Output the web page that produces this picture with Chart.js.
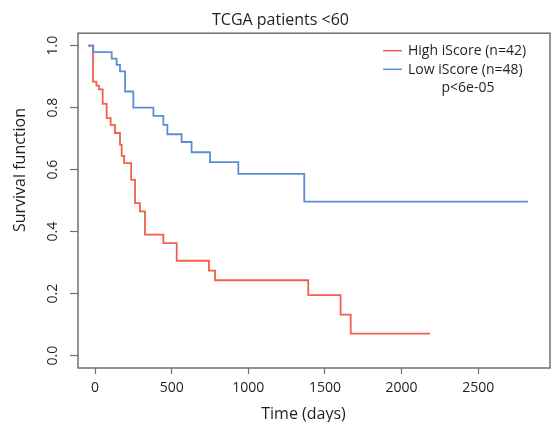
<!DOCTYPE html>
<html>
<head>
<meta charset="utf-8">
<script src="https://cdn.jsdelivr.net/npm/chart.js@4.4.1/dist/chart.umd.min.js"></script>
<style>
  html, body { margin: 0; padding: 0; background: #ffffff; }
  #wrap { width: 551px; height: 422px; position: relative; }
</style>
</head>
<body>
<div id="wrap"><canvas id="c" width="551" height="422"></canvas></div>
<script>
// ---- data ----
const chartTitle = "TCGA patients <60";
const xAxisTitle = "Time (days)";
const yAxisTitle = "Survival function";
const seriesLabels = ["High iScore (n=42)", "Low iScore (n=48)"];
const pValueText = "p<6e-05";

const highTimes = [-44, -13, 9, 26, 50, 76, 102, 130, 163, 174, 190, 236, 261, 293, 326, 446, 533, 743, 783, 1391, 1602, 1668, 2185];
const highSurv  = [1.0, 0.884, 0.871, 0.859, 0.812, 0.766, 0.744, 0.718, 0.68, 0.644, 0.621, 0.567, 0.492, 0.465, 0.390, 0.363, 0.306, 0.274, 0.243, 0.195, 0.132, 0.071, 0.071];

const lowTimes = [-44, -11, 109, 141, 163, 196, 250, 381, 446, 472, 565, 630, 750, 935, 1365, 2824];
const lowSurv  = [1.0, 0.979, 0.958, 0.938, 0.917, 0.852, 0.80, 0.773, 0.744, 0.714, 0.689, 0.656, 0.624, 0.586, 0.497, 0.497];

const xTickValues = [0, 500, 1000, 1500, 2000, 2500];
const yTickValues = [0.0, 0.2, 0.4, 0.6, 0.8, 1.0];

// ---- styling ----
const FONT = "'Open Sans', 'Noto Sans', sans-serif";
const TEXT = "#231f20";
const AXIS = "#707070";
const RED = "#f0604d";
const BLUE = "#5b8ed6";

function toPoints(ts, ss) { return ts.map((t, i) => ({ x: t, y: ss[i] })); }

const framePlugin = {
  id: 'frame',
  afterDraw(chart) {
    const { ctx, chartArea: a } = chart;
    ctx.save();
    ctx.strokeStyle = AXIS;
    ctx.lineWidth = 1.5;
    ctx.strokeRect(a.left, a.top, a.right - a.left, a.bottom - a.top);
    ctx.restore();
  }
};

const annotPlugin = {
  id: 'annot',
  afterDraw(chart) {
    const { ctx } = chart;
    ctx.save();
    ctx.fillStyle = TEXT;
    // axis titles
    ctx.font = "16px " + FONT;
    ctx.textAlign = 'center';
    ctx.textBaseline = 'alphabetic';
    ctx.fillText(xAxisTitle, 303.5, 418.5);
    ctx.save();
    ctx.translate(25, 170);
    ctx.rotate(-Math.PI / 2);
    ctx.fillText(yAxisTitle, 0, 0);
    ctx.restore();
    // legend
    const ds = chart.data.datasets;
    const rows = [50.7, 69.3];
    ctx.font = "14px " + FONT;
    ctx.textAlign = 'left';
    ctx.textBaseline = 'middle';
    ds.forEach((d, i) => {
      ctx.strokeStyle = d.borderColor;
      ctx.lineWidth = 1.5;
      ctx.beginPath();
      ctx.moveTo(383, rows[i]);
      ctx.lineTo(402, rows[i]);
      ctx.stroke();
      ctx.fillText(d.label, 408, rows[i] + 0.5);
    });
    ctx.textAlign = 'center';
    ctx.fillText(pValueText, 468, 88.5);
    ctx.restore();
  }
};

new Chart(document.getElementById('c'), {
  type: 'line',
  data: {
    datasets: [
      { label: seriesLabels[0], data: toPoints(highTimes, highSurv), borderColor: RED, borderWidth: 1.8, stepped: 'before', pointRadius: 0, fill: false, order: 1 },
      { label: seriesLabels[1], data: toPoints(lowTimes, lowSurv), borderColor: BLUE, borderWidth: 1.8, stepped: 'before', pointRadius: 0, fill: false, order: 0 }
    ]
  },
  options: {
    responsive: false,
    animation: false,
    devicePixelRatio: 1,
    layout: { padding: { left: 11, right: 1, top: 0, bottom: 0 } },
    plugins: {
      legend: { display: false },
      tooltip: { enabled: false },
      title: {
        display: true,
        text: chartTitle,
        color: TEXT,
        font: { family: FONT, size: 16, weight: 'normal', lineHeight: 1.2 },
        padding: { top: 11, bottom: 3 }
      }
    },
    scales: {
      x: {
        type: 'linear',
        min: -111,
        max: 2968,
        border: { display: false },
        grid: { display: true, drawOnChartArea: false, drawTicks: true, tickLength: 6, color: AXIS, tickWidth: 1.2 },
        ticks: { padding: 6, color: TEXT, font: { family: FONT, size: 14 }, maxRotation: 0, minRotation: 0, autoSkip: false,
                 callback: (v) => String(v) },
        afterBuildTicks(scale) { scale.ticks = xTickValues.map(v => ({ value: v })); },
        afterFit(scale) { scale.height = 54; }
      },
      y: {
        type: 'linear',
        min: -0.04,
        max: 1.04,
        border: { display: false },
        grid: { display: true, drawOnChartArea: false, drawTicks: true, tickLength: 8, color: AXIS, tickWidth: 1.2 },
        ticks: {
          padding: 7, color: TEXT, autoSkip: false,
          font: { family: FONT, size: 14 },
          minRotation: 90, maxRotation: 90, crossAlign: 'center',
          callback: (v) => Number(v).toFixed(1)
        },
        afterBuildTicks(scale) { scale.ticks = yTickValues.map(v => ({ value: v })); },
        afterFit(scale) { scale.width = 67; }
      }
    }
  },
  plugins: [framePlugin, annotPlugin]
});
</script>
</body>
</html>
